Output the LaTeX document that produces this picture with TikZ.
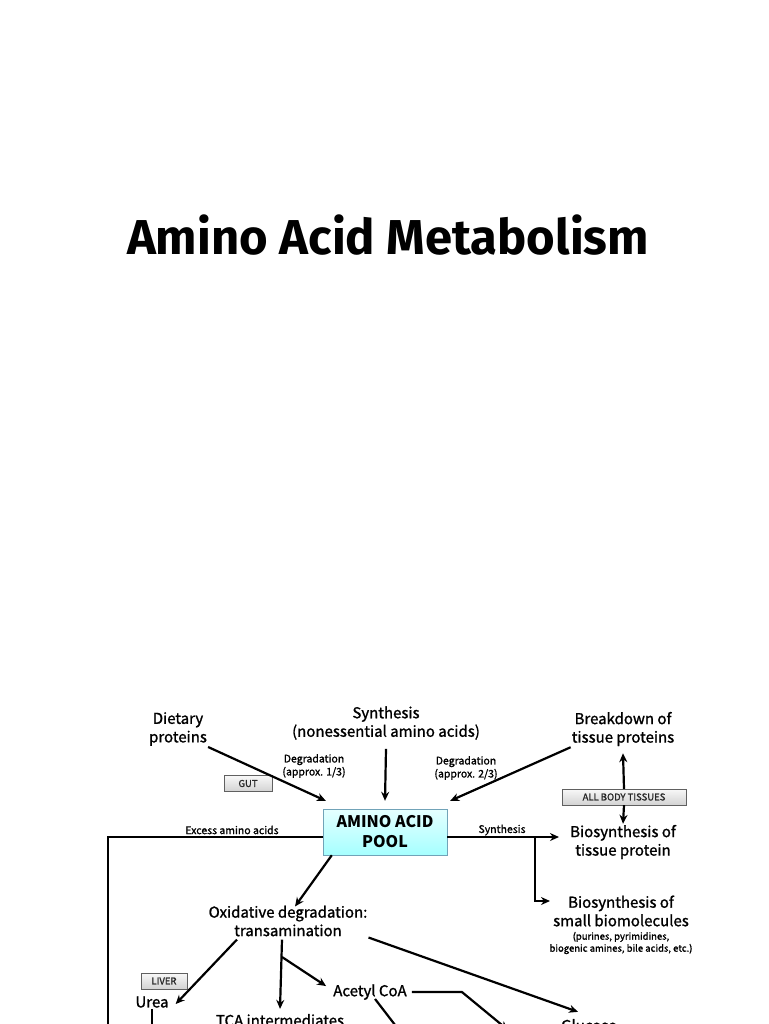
\documentclass[tikz,border=0pt]{standalone}
\usepackage{fontspec}
\setmainfont{Noto Sans CJK KR}
\newfontfamily\semifont{Noto Sans CJK KR}[FakeBold=1.3]
\newfontfamily\titlefont{Fira Sans}
\usetikzlibrary{arrows.meta}

\tikzset{
  label text/.style={font=\semifont\fontsize{15}{18.5}\selectfont,align=center,inner sep=1pt},
  small text/.style={font=\semifont\fontsize{10.5}{13}\selectfont,align=center,inner sep=1pt},
  tag/.style={draw=gray!75!black,top color=gray!5,bottom color=gray!35,text=black!85,
    font=\semifont\fontsize{9.5}{11}\selectfont,minimum height=16pt,inner sep=0pt},
  flow/.style={-{Stealth[length=9pt,width=8pt]},line width=2.2pt},
  plain/.style={line width=2.2pt}
}

\begin{document}
\begin{tikzpicture}[x=1pt,y=-1pt]
\useasboundingbox (0,0) rectangle (768,1024);
\clip (0,0) rectangle (768,1024);

\node (title) at (388,235) {\titlefont\bfseries\fontsize{49}{53}\selectfont Amino Acid Metabolism};

\node[label text] (diet) at (178,729) {Dietary\\proteins};
\node[label text] (synth) at (386,723) {Synthesis\\(nonessential amino acids)};
\node[label text] (break) at (623,729) {Breakdown of\\tissue proteins};
\node[small text] (deg1) at (314,766) {Degradation\\(approx. 1/3)};
\node[small text] (deg2) at (466,768) {Degradation\\(approx. 2/3)};
\node[tag,minimum width=48pt] (gut) at (248,783.5) {GUT};
\node[tag,minimum width=124pt] (tissues) at (624,797) {ALL BODY TISSUES};

\node[draw=gray!60!cyan,top color=cyan!10,bottom color=cyan!35,minimum width=124pt,minimum height=46pt,
  align=center,inner sep=0pt,font=\bfseries\fontsize{16}{20}\selectfont] (pool) at (385,832) {AMINO ACID\\POOL};

\node[label text] (biotp) at (623,842) {Biosynthesis of\\tissue protein};
\node[label text] (biosm) at (621,911) {Biosynthesis of\\small biomolecules};
\node[small text,font=\semifont\fontsize{9.5}{12}\selectfont] (note) at (621,943) {(purines, pyrimidines,\\biogenic amines, bile acids, etc.)};
\node[small text] (excess) at (232,830) {Excess amino acids};
\node[small text] (synlab) at (502,830) {Synthesis};

\node[label text] (oxid) at (288,921) {Oxidative degradation:\\transamination};
\node[tag,minimum width=46pt] (liver) at (164,981) {LIVER};
\node[label text] (urea) at (152,1002) {Urea};
\node[label text] (acetyl) at (370,992) {Acetyl CoA};
\node[label text,anchor=base] (tca) at (280,1026) {TCA intermediates};
\node[label text,anchor=base west] (gl) at (560,1031) {Glucose};

\coordinate (fork) at (535,837);
\coordinate (split) at (282,957);
\coordinate (exc) at (108,1040);
\coordinate (ureaend) at (152,1040);
\coordinate (ketend) at (508,1030);
\coordinate (acend) at (402,1034);

\draw[flow] (diet.south east) -- ([shift={(3pt,8pt)}]pool.north west);
\draw[flow] ([yshift=-8pt]synth.south) -- ([yshift=8pt]pool.north);
\draw[flow] (break.south west) -- ([shift={(3pt,8pt)}]pool.north east);
\draw[flow] (tissues.north) -- ([yshift=-6pt]break.south);
\draw[flow] (tissues.south) -- (biotp.north);
\draw[flow] ([yshift=-5pt]pool.east) -- ([xshift=-10pt,yshift=5pt]biotp.west);
\draw[flow] (fork) |- ([xshift=-2pt,yshift=10pt]biosm.west);
\draw[plain] ([yshift=-5pt]pool.west) -| (exc);

\draw[flow] ([xshift=9pt]pool.south west) -- ([shift={(7pt,-2pt)}]oxid.north);
\draw[flow] ([xshift=-51pt,yshift=-2pt]oxid.south) -- ([shift={(6pt,-2pt)}]urea.east);
\draw[flow] ([xshift=-6pt,yshift=-2pt]oxid.south) -- ([yshift=4pt]tca.north);
\draw[flow] (split) -- ([shift={(-6pt,-3pt)}]acetyl.north west);
\draw[flow] (oxid.south east) -- ([shift={(18pt,6pt)}]gl.north west);
\draw[plain] (urea.south) -- (ureaend);
\draw[flow] ([xshift=4pt]acetyl.east) -- ++(50,0) -- (ketend);
\draw[plain] ([xshift=5pt,yshift=2pt]acetyl.south) -- (acend);
\end{tikzpicture}
\end{document}
